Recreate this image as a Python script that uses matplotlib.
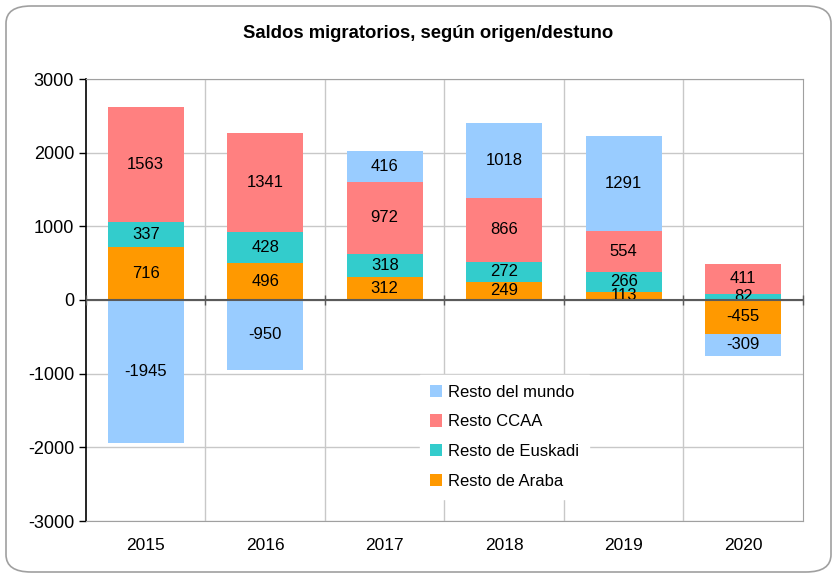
import matplotlib.pyplot as plt
from matplotlib.patches import FancyBboxPatch
import numpy as np

plt.rcParams['font.family'] = ['Liberation Sans', 'DejaVu Sans']
plt.rcParams['axes.unicode_minus'] = False

years = ["2015", "2016", "2017", "2018", "2019", "2020"]
araba = [716, 496, 312, 249, 113, -455]
euskadi = [337, 428, 318, 272, 266, 82]
ccaa = [1563, 1341, 972, 866, 554, 411]
mundo = [-1945, -950, 416, 1018, 1291, -309]

series = [("Resto de Araba", araba, "#FF9900"),
          ("Resto de Euskadi", euskadi, "#33CCCC"),
          ("Resto CCAA", ccaa, "#FF8080"),
          ("Resto del mundo", mundo, "#99CCFF")]

fig = plt.figure(figsize=(8.37, 5.77), dpi=100)
ax = fig.add_axes([86/837, 56/577, 717/837, 442/577])

# rounded frame around the whole chart
frame = FancyBboxPatch((6/837, 5/577), 825/837, 566/577,
                       boxstyle="round,pad=0,rounding_size=0.03",
                       transform=fig.transFigure, facecolor="none",
                       edgecolor="#A0A0A0", linewidth=1.2)
fig.patches.append(frame)

x = np.arange(len(years))
pos_base = np.zeros(len(years))
neg_base = np.zeros(len(years))
handles = {}
for name, vals, col in series:
    vals = np.array(vals, dtype=float)
    base = np.where(vals >= 0, pos_base, neg_base)
    b = ax.bar(x, vals, 0.64, bottom=base, color=col, zorder=2, label=name)
    handles[name] = b
    for xi, v, bo in zip(x, vals, base):
        ax.text(xi, bo + v / 2, f"{int(v)}", ha="center", va="center",
                fontsize=12, color="black", zorder=3)
    pos_base = pos_base + np.where(vals >= 0, vals, 0)
    neg_base = neg_base + np.where(vals < 0, vals, 0)

ax.set_xlim(-0.5, len(years) - 0.5)
ax.set_ylim(-3000, 3000)
ax.set_yticks(range(-3000, 3001, 1000))
ax.set_xticks(x)
ax.set_xticklabels(years, fontsize=12.5)
ax.tick_params(axis="y", labelsize=13, length=5, width=1, color="black", direction="out")
ax.tick_params(axis="x", length=0, pad=12)

# grid
for yv in range(-3000, 3001, 1000):
    ax.axhline(yv, color="#C8C8C8", linewidth=1, zorder=1)
for xb in np.arange(0.5, len(years) - 0.5, 1):
    ax.axvline(xb, color="#C8C8C8", linewidth=1, zorder=1)

ax.axhline(0, color="#5A5A5A", linewidth=1.5, zorder=4)
bounds = np.arange(-0.5, len(years), 1)
ax.plot(bounds, np.zeros(len(bounds)), linestyle="none", marker="|",
        markersize=7, color="#5A5A5A", zorder=4, clip_on=False)

for s in ["top", "right", "bottom"]:
    ax.spines[s].set_color("#A0A0A0")
ax.spines["left"].set_color("black")
ax.spines["left"].set_linewidth(1.2)

order = ["Resto del mundo", "Resto CCAA", "Resto de Euskadi", "Resto de Araba"]
leg = ax.legend([handles[n] for n in order], order, loc="upper left",
                bbox_to_anchor=(0.454, 0.35), frameon=True, fontsize=12,
                handlelength=0.75, handleheight=0.75, handletextpad=0.35,
                labelspacing=0.88, borderpad=0.6, fancybox=False)
leg.get_frame().set_edgecolor("white")
leg.get_frame().set_facecolor("white")
leg.get_frame().set_alpha(1)
leg.set_zorder(5)

fig.suptitle("Saldos migratorios, según origen/destuno", fontsize=13.3,
             fontweight="bold", x=428/837, y=1 - 33/577, va="center")

fig.savefig("out.png", dpi=100)
